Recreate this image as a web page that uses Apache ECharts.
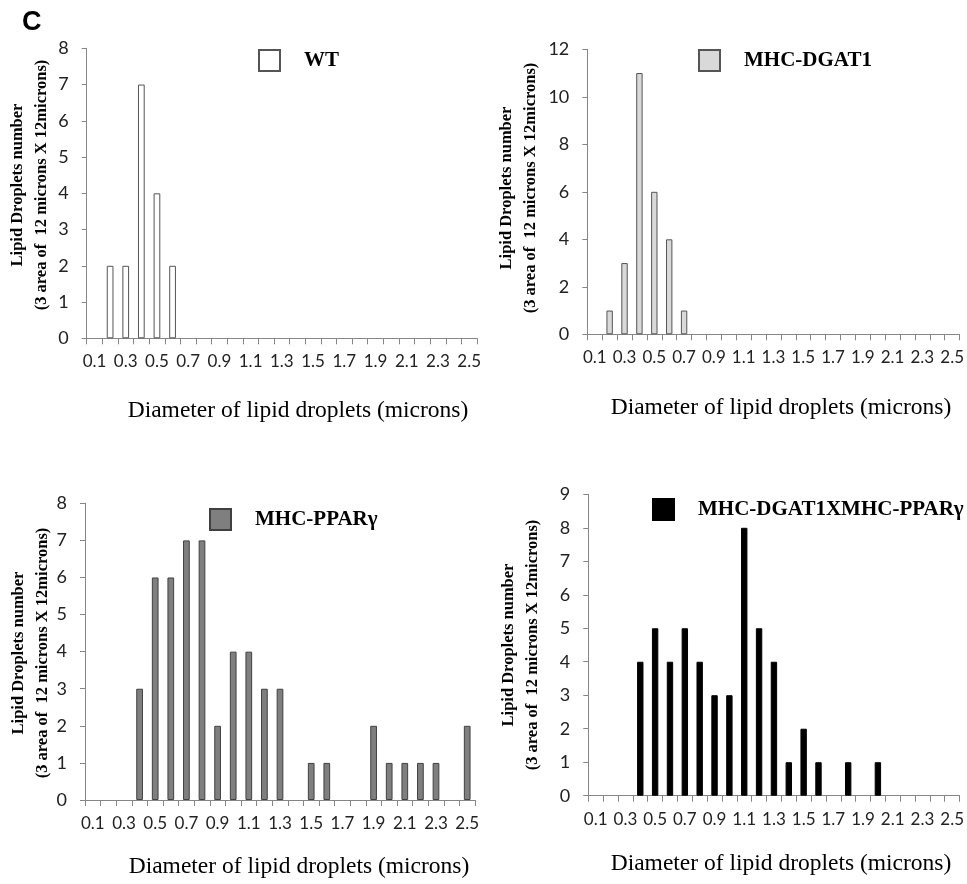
<!DOCTYPE html>
<html>
<head>
<meta charset="utf-8">
<script src="https://cdn.jsdelivr.net/npm/echarts@6/dist/echarts.min.js"></script>
<style>html,body{margin:0;padding:0;background:#fff;}#c{width:967px;height:884px;}</style>
</head>
<body>
<div id="c"></div>
<script>
// ---- data ----
const categories = ['0.1','0.2','0.3','0.4','0.5','0.6','0.7','0.8','0.9','1.0','1.1','1.2','1.3','1.4','1.5','1.6','1.7','1.8','1.9','2.0','2.1','2.2','2.3','2.4','2.5'];
const wtValues     = [0,2,2,7,4,2,0,0,0,0,0,0,0,0,0,0,0,0,0,0,0,0,0,0,0];
const dgat1Values  = [0,1,3,11,6,4,1,0,0,0,0,0,0,0,0,0,0,0,0,0,0,0,0,0,0];
const pparValues   = [0,0,0,3,6,6,7,7,2,4,4,3,3,0,1,1,0,0,2,1,1,1,1,0,2];
const comboValues  = [0,0,0,4,5,4,5,4,3,3,8,5,4,1,2,1,0,1,0,1,0,0,0,0,0];
const seriesNames  = ['WT','MHC-DGAT1','MHC-PPARγ','MHC-DGAT1XMHC-PPARγ'];
const yMax         = [8,12,8,9];
const yStep        = [1,2,1,1];
const yTitle = 'Lipid Droplets number\n(3 area of  12 microns X 12microns)';
const xTitle = 'Diameter of lipid droplets (microns)';

const allValues = [wtValues, dgat1Values, pparValues, comboValues];
const fills   = ['#ffffff','#d9d9d9','#7f7f7f','#000000'];
const borders = ['#555555','#555555','#404040','#000000'];

const grids = [
  {left:86.7, top:48.3, width:390.3, height:290},
  {left:587.3, top:49.3, width:372.7, height:285},
  {left:85, top:503.3, width:390, height:296.7},
  {left:588.3, top:494.3, width:371.7, height:301.4}
];
const legendPos = [
  {left:258, top:49},
  {left:698, top:49},
  {left:209, top:508},
  {left:652, top:498}
];
const yTitlePos = [[30,185],[519,188],[31,653],[521,645]];
const xTitlePos = [[298,411],[781,408],[299,867],[781,864]];

const axisColor = '#868686';
const labelFont = 'Lato';
const serif = '"Liberation Serif","Times New Roman",serif';

const option = {
  animation:false,
  backgroundColor:'#fff',
  grid: grids.map(g => Object.assign({containLabel:false}, g)),
  xAxis: grids.map((g,i) => ({
    type:'category', gridIndex:i, data:categories, boundaryGap:true,
    axisLine:{show:true, lineStyle:{color:axisColor, width:1}},
    axisTick:{show:true, interval:0, length:6, lineStyle:{color:axisColor}},
    axisLabel:{interval:1, margin:15, fontFamily:labelFont, fontSize:17, color:'#222'},
    splitLine:{show:false}
  })),
  yAxis: grids.map((g,i) => ({
    type:'value', gridIndex:i, min:0, max:yMax[i], interval:yStep[i],
    axisLine:{show:true, lineStyle:{color:axisColor, width:1}},
    axisTick:{show:true, length:5, lineStyle:{color:axisColor}},
    axisLabel:{margin:18, fontFamily:labelFont, fontSize:18, color:'#222'},
    splitLine:{show:false}
  })),
  legend: legendPos.map((p,i) => ({
    left:p.left, top:p.top, padding:0, data:[seriesNames[i]], icon:'rect',
    itemWidth:21, itemHeight:21, orient:'horizontal',
    textStyle:{fontFamily:serif, fontWeight:'bold', fontSize:21, color:'#000', padding:[0,0,0,19]}
  })),
  series: allValues.map((vals,i) => ({
    type:'bar', name:seriesNames[i], xAxisIndex:i, yAxisIndex:i,
    data: vals.map(v => v === 0 ? {value:v, itemStyle:{borderWidth:0}} : v),
    barWidth:'43%',
    itemStyle:{color:fills[i], borderColor:borders[i], borderWidth:1}
  })),
  graphic: [
    {type:'text', left:22, top:9, style:{text:'C', font:'bold 27px "Liberation Sans", Arial, sans-serif', fill:'#000'}}
  ].concat(yTitlePos.map(p => ({
    type:'text', x:p[0], y:p[1], rotation:Math.PI/2,
    style:{text:yTitle, font:'bold 16.5px "Liberation Serif", serif', fill:'#000', textAlign:'center', textVerticalAlign:'middle', lineHeight:24}
  }))).concat(xTitlePos.map(p => ({
    type:'text', x:p[0], y:p[1],
    style:{text:xTitle, font:'23.5px "Liberation Serif", serif', fill:'#000', textAlign:'center', textVerticalAlign:'middle'}
  })))
};
const chart = echarts.init(document.getElementById('c'), null, {renderer:'canvas'});
chart.setOption(option);
</script>
</body>
</html>
